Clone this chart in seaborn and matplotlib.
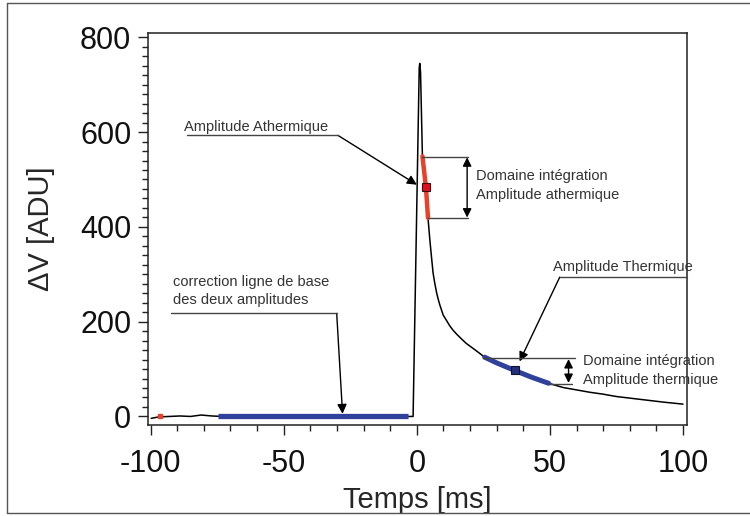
import numpy as np
import pandas as pd
import matplotlib
matplotlib.use("Agg")
import matplotlib.pyplot as plt
import seaborn as sns
from matplotlib.lines import Line2D
from matplotlib.ticker import MultipleLocator

# ---------------- data ----------------
time_ms = [-99.8, -97, -93, -89, -85, -81, -77, -73, -69, -65, -61, -57, -53, -49,
           -45, -41, -37, -33, -29, -25, -21, -17, -13, -9, -5, -2, -1.4, 0.9, 1.1,
           1.4, 2.1, 3.4, 4.2, 4.9, 5.5, 6.1, 6.75, 7.4, 8.0, 8.6, 9.9, 11.1, 12.4, 13.6,
           14.9, 16.7, 18.6, 22.0, 25.5,
           30.0, 36.8, 43.0, 49.5, 55, 60, 65, 70, 75, 81, 87, 93, 100]
delta_v = [-4, -1, 0, 1, 0, 3, 1, 0, 1, -1, 0, 1, 0, -1,
           1, 0, 0, 1, -1, 0, 1, 0, -1, 1, 0, 0, 0, 735, 745,
           726, 549, 485, 419, 372, 337, 303, 281, 262, 248, 236, 214, 203, 191, 182,
           174, 164, 154, 140, 125,
           113, 97, 83, 70, 61, 56, 51, 47, 42, 38, 34, 30, 26]

athermal_window = [2.1, 4.2]
thermal_window = [25.5, 49.5]
baseline_t = [-74.6, -3.5]
baseline_v = [0, 0]
athermal_pt_t, athermal_pt_v = [3.4], [485]
thermal_pt_t, thermal_pt_v = [36.8], [97]
start_pt_t, start_pt_v = [-96.4], [0]

athermal_bracket_v = [546.7, 419.7]
thermal_bracket_v = [124, 67.7]

xticks = [-100, -50, 0, 50, 100]
yticks = [0, 200, 400, 600, 800]

df = pd.DataFrame({"t": time_ms, "v": delta_v})
ath = df[(df.t >= athermal_window[0]) & (df.t <= athermal_window[1])]
th = df[(df.t >= thermal_window[0]) & (df.t <= thermal_window[1])]

# ---------------- style ----------------
sns.set_style("ticks")
plt.rcParams["font.family"] = ["Liberation Sans", "DejaVu Sans"]
plt.rcParams["axes.unicode_minus"] = False

fig = plt.figure(figsize=(7.5, 5.16), dpi=100)
ax = fig.add_axes([0.1973, 0.1764, 0.916 - 0.1973, 0.936 - 0.1764])

RED = "#e8402a"
BLUE = "#2f419a"
TXT = "#333333"
GRAY = "#444444"

sns.lineplot(data=df, x="t", y="v", ax=ax, color="black", lw=1.1, sort=False,
             estimator=None, zorder=3)
sns.lineplot(data=ath, x="t", y="v", ax=ax, color=RED, lw=3.2, sort=False,
             estimator=None, zorder=4)
sns.lineplot(data=th, x="t", y="v", ax=ax, color=BLUE, lw=3.6, sort=False,
             estimator=None, zorder=4)
ax.plot(baseline_t, baseline_v, color=BLUE, lw=3.8, solid_capstyle="butt", zorder=4)
ax.plot(athermal_pt_t, athermal_pt_v, "s", ms=5.5, mfc="#e0101e", mec="#3a1010",
        mew=0.8, zorder=6)
ax.plot(thermal_pt_t, thermal_pt_v, "s", ms=5.5, mfc="#22307a", mec="#111133",
        mew=0.8, zorder=6)
ax.plot(start_pt_t, start_pt_v, "s", ms=2.5, mfc=RED, mec=RED, zorder=6)

# ---------------- axes ----------------
ax.set_xlim(-101, 101.5)
ax.set_ylim(-18, 809)
ax.set_xticks(xticks)
ax.set_yticks(yticks)
ax.xaxis.set_minor_locator(MultipleLocator(10))
ax.yaxis.set_minor_locator(MultipleLocator(20))
ax.tick_params(axis="both", which="major", direction="out", length=7, width=1.0,
               labelsize=22, color="#222222", labelcolor="#111111")
ax.tick_params(axis="both", which="minor", direction="out", length=4.5, width=1.0,
               color="#222222")
ax.tick_params(axis="y", which="major", pad=5)
ax.tick_params(axis="x", which="major", pad=10)
for s in ax.spines.values():
    s.set_visible(True)
    s.set_linewidth(1.1)
    s.set_color("#222222")
ax.set_xlabel("Temps [ms]", fontsize=21, labelpad=5)
ax.set_ylabel("ΔV [ADU]", fontsize=21, labelpad=18)

# ---------------- annotations ----------------
afs = 10.5
arrow_kw = dict(arrowstyle="-|>", color="black", lw=1.0, mutation_scale=14,
                shrinkA=0, shrinkB=0)
dbl_kw = dict(arrowstyle="<|-|>", color="black", lw=1.0, mutation_scale=13,
              shrinkA=0, shrinkB=0)

# Amplitude Athermique
ax.text(-87.5, 597, "Amplitude Athermique", fontsize=afs, color=TXT, ha="left",
        va="bottom")
ax.plot([-86.5, -29.6], [593, 593], color=GRAY, lw=1.0, zorder=5)
ax.annotate("", xy=(0.0, 489), xytext=(-29.6, 593), arrowprops=arrow_kw,
            annotation_clip=False)
# bracket athermal
ax.plot([2.1, 19.1], [athermal_bracket_v[0]] * 2, color=GRAY, lw=1.0, zorder=5)
ax.plot([4.2, 19.1], [athermal_bracket_v[1]] * 2, color=GRAY, lw=1.0, zorder=5)
ax.annotate("", xy=(18.9, athermal_bracket_v[0]), xytext=(18.9, athermal_bracket_v[1]),
            arrowprops=dbl_kw)
ax.text(22.3, 487, "Domaine intégration\nAmplitude athermique", fontsize=afs,
        color=TXT, ha="left", va="center", linespacing=1.4)

# Amplitude Thermique
ax.text(51.0, 300, "Amplitude Thermique", fontsize=afs, color=TXT, ha="left",
        va="bottom", clip_on=False)
ax.plot([53.7, 101.5], [294, 294], color=GRAY, lw=1.0, zorder=5, clip_on=False)
ax.annotate("", xy=(38.6, 116), xytext=(53.7, 294), arrowprops=arrow_kw)
ax.plot([24.8, 59.3], [thermal_bracket_v[0]] * 2, color=GRAY, lw=1.0, zorder=5)
ax.plot([49.9, 58.2], [thermal_bracket_v[1]] * 2, color=GRAY, lw=1.0, zorder=5)
ax.annotate("", xy=(57.0, thermal_bracket_v[0] - 3), xytext=(57.0, thermal_bracket_v[1] + 3),
            arrowprops=dbl_kw)
ax.text(62.5, 97, "Domaine intégration\nAmplitude thermique", fontsize=afs,
        color=TXT, ha="left", va="center", linespacing=1.4, clip_on=False)

# baseline correction
ax.text(-91.5, 230, "correction ligne de base\ndes deux amplitudes", fontsize=afs,
        color=TXT, ha="left", va="bottom", linespacing=1.4)
ax.plot([-92.3, -30.1], [217.4, 217.4], color=GRAY, lw=1.0, zorder=5)
ax.annotate("", xy=(-27.9, 5.5), xytext=(-30.1, 217.4), arrowprops=arrow_kw)

# figure border
for xs, ys in [([7 / 750, 7 / 750], [3 / 516, 513 / 516]),
               ([7 / 750, 1.0], [513 / 516, 513 / 516]),
               ([7 / 750, 1.0], [3 / 516, 3 / 516])]:
    fig.add_artist(Line2D(xs, ys, transform=fig.transFigure, color="#555555", lw=1.0))

fig.savefig("out.png", dpi=100)
